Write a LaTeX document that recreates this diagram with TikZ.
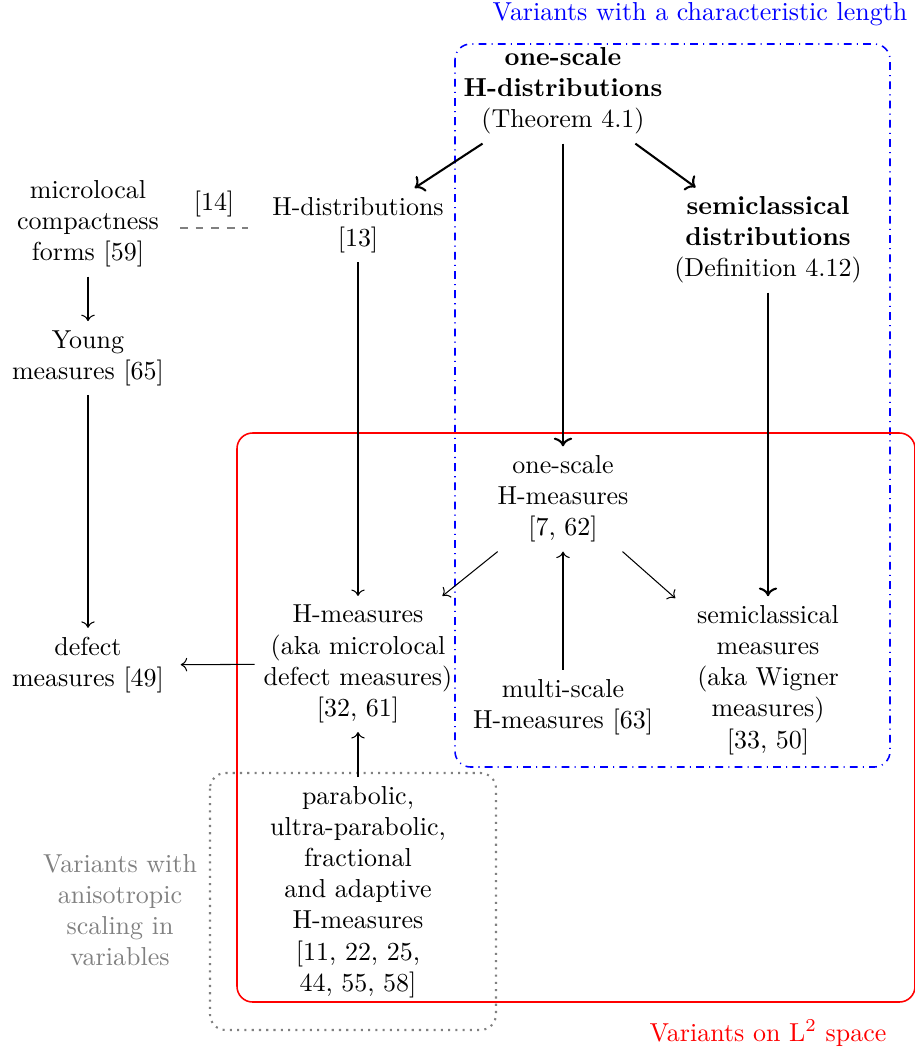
\documentclass[tikz,border=0pt]{standalone}
\usetikzlibrary{arrows.meta}
\begin{document}
\begin{tikzpicture}[x=0.385pt,y=-0.385pt,
  txt/.style={align=center},
  nd/.style={align=center,minimum width=71pt},
  thickarr/.style={->,thick},
  thinarr/.style={->},
  bluebox/.style={draw=blue,dash dot,semithick,rounded corners=6pt},
  redbox/.style={draw=red,semithick,rounded corners=6pt},
  graybox/.style={draw=gray,dotted,thick,rounded corners=6pt}]
\useasboundingbox (0,0) rectangle (915,1052);
% boxes
\draw[bluebox] (455,44) rectangle (890,767);
\draw[redbox] (237,433) rectangle (915,1002);
\draw[graybox] (210,773) rectangle (496,1030);
\node[txt,text=blue] (tblue) at (700,14) {Variants with a characteristic length};
\node[txt,text=red] (tred) at (768,1033) {Variants on L$^2$ space};
\node[txt,text=gray] (tgray) at (120,910) {Variants with\\anisotropic\\scaling in\\variables};
% nodes
\node[nd] (oshd) at (563,91) {\textbf{one-scale}\\\textbf{H-distributions}\\(Theorem 4.1)};
\node[nd] (hd) at (358,225) {H-distributions\\{}[13]};
\node[nd] (mcf) at (88,224) {microlocal\\compactness\\forms [59]};
\node[nd] (ym) at (88,358) {Young\\measures [65]};
\node[nd] (dm) at (88,665) {defect\\measures [49]};
\node[nd] (scd) at (768,240) {\textbf{semiclassical}\\\textbf{distributions}\\(Definition 4.12)};
\node[nd] (oshm) at (563,499) {one-scale\\H-measures\\{}[7, 62]};
\node[nd] (hm) at (358,664) {H-measures\\(aka microlocal\\defect measures)\\{}[32, 61]};
\node[nd] (mshm) at (563,707) {multi-scale\\H-measures [63]};
\node[nd] (scm) at (768,680) {semiclassical\\measures\\(aka Wigner\\measures)\\{}[33, 50]};
\node[nd] (par) at (358,892) {parabolic,\\ultra-parabolic,\\fractional\\and adaptive\\H-measures\\{}[11, 22, 25,\\44, 55, 58]};
% dashed link
\coordinate (dl) at (180,228);
\coordinate (dr) at (248,228);
\draw[dashed,gray] (dl) -- (dr) node[midway,above=2pt,text=black,inner sep=2pt] (l14) {[14]};
% thick arrows
\draw[thickarr] (oshd) -- (hd);
\draw[thickarr] (oshd) -- (oshm);
\draw[thickarr] (oshd) -- (scd);
\draw[thickarr] (scd) -- (scm);
% thin arrows
\draw[thinarr] (hd) -- (hm);
\draw[thinarr] (mcf) -- (ym);
\draw[thinarr] (ym) -- (dm);
\draw[thinarr] (hm) -- (dm);
\draw[thinarr] (oshm) -- (hm);
\draw[thinarr] (oshm) -- (scm);
\draw[thinarr] (mshm) -- (oshm);
\draw[thinarr] (par) -- (hm);
\end{tikzpicture}
\end{document}
